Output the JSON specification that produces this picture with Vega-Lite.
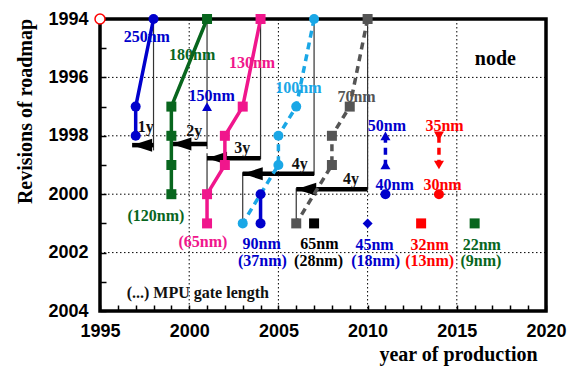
{
  "$schema": "https://vega.github.io/schema/vega-lite/v6.json",
  "width": 446,
  "height": 292,
  "autosize": {"type": "none"},
  "padding": {"left": 100, "top": 19, "right": 28, "bottom": 56},
  "background": "white",
  "config": {
    "view": {"stroke": "black", "strokeWidth": 3.5},
    "axis": {"grid": false, "domain": false, "tickColor": "black", "tickWidth": 1.5, "labelOverlap": false, "labelFlush": false, "zindex": 1,
      "labelFont": "Liberation Sans", "labelFontWeight": "bold", "labelFontSize": 18, "labelColor": "black",
      "titleFont": "Liberation Serif", "titleFontWeight": "bold", "titleFontSize": 20, "titleColor": "black"}
  },
  "datasets": {
    "gridx": [{"x": 2000, "y": 1994, "y2": 2004}, {"x": 2005, "y": 1994, "y2": 2004}, {"x": 2010, "y": 1994, "y2": 2004}, {"x": 2015, "y": 1994, "y2": 2004}],
    "gridy": [{"y": 1996, "x": 1995, "x2": 2020}, {"y": 1998, "x": 1995, "x2": 2020}, {"y": 2000, "x": 1995, "x2": 2020}, {"y": 2002, "x": 1995, "x2": 2020}],
    "vlines": [
      {"x": 1998, "y": 1994, "y2": 1998.5},
      {"x": 2001, "y": 1994, "y2": 1998.45},
      {"x": 2001, "y": 1998.6, "y2": 2000},
      {"x": 2004, "y": 1994, "y2": 1998.8},
      {"x": 2007, "y": 1994, "y2": 1999.35},
      {"x": 2003, "y": 1999.25, "y2": 2001},
      {"x": 2010, "y": 1994, "y2": 1999.85},
      {"x": 2006, "y": 1999.8, "y2": 2001}
    ],
    "arrows": [
      {"label": "1y", "x": 1996.8, "x2": 1998, "y": 1998.32},
      {"label": "2y", "x": 1999.0, "x2": 2001, "y": 1998.28},
      {"label": "3y", "x": 2001.0, "x2": 2004, "y": 1998.77},
      {"label": "4y", "x": 2003.0, "x2": 2007, "y": 1999.3},
      {"label": "4y", "x": 2006.0, "x2": 2010, "y": 1999.83}
    ],
    "nodes": [
      {"series": "250nm", "o": 1, "x": 1998, "y": 1994},
      {"series": "250nm", "o": 2, "x": 1997, "y": 1997},
      {"series": "250nm", "o": 3, "x": 1997, "y": 1998},
      {"series": "180nm", "o": 1, "x": 2001, "y": 1994},
      {"series": "180nm", "o": 2, "x": 1999, "y": 1997},
      {"series": "180nm", "o": 3, "x": 1999, "y": 1998},
      {"series": "180nm", "o": 4, "x": 1999, "y": 1999},
      {"series": "180nm", "o": 5, "x": 1999, "y": 2000},
      {"series": "130nm", "o": 1, "x": 2004, "y": 1994},
      {"series": "130nm", "o": 2, "x": 2003, "y": 1997},
      {"series": "130nm", "o": 3, "x": 2002, "y": 1998},
      {"series": "130nm", "o": 4, "x": 2002, "y": 1999},
      {"series": "130nm", "o": 5, "x": 2001, "y": 2000},
      {"series": "130nm", "o": 6, "x": 2001, "y": 2001},
      {"series": "90nm", "o": 1, "x": 2004, "y": 2000},
      {"series": "90nm", "o": 2, "x": 2004, "y": 2001},
      {"series": "100nm", "o": 1, "x": 2007, "y": 1994},
      {"series": "100nm", "o": 2, "x": 2006, "y": 1997},
      {"series": "100nm", "o": 3, "x": 2005, "y": 1998},
      {"series": "100nm", "o": 4, "x": 2005, "y": 1999},
      {"series": "100nm", "o": 5, "x": 2003, "y": 2001},
      {"series": "70nm", "o": 1, "x": 2010, "y": 1994},
      {"series": "70nm", "o": 2, "x": 2009, "y": 1997},
      {"series": "70nm", "o": 3, "x": 2008, "y": 1998},
      {"series": "70nm", "o": 4, "x": 2008, "y": 1999},
      {"series": "70nm", "o": 5, "x": 2006, "y": 2001},
      {"series": "50nm", "o": 1, "x": 2011, "y": 1998},
      {"series": "50nm", "o": 2, "x": 2011, "y": 1999},
      {"series": "35nm", "o": 1, "x": 2014, "y": 1998},
      {"series": "35nm", "o": 2, "x": 2014, "y": 1999}
    ],
    "singles": [
      {"series": "150nm", "x": 2001, "y": 1997},
      {"series": "40nm", "x": 2011, "y": 2000},
      {"series": "30nm", "x": 2014, "y": 2000},
      {"series": "65nm", "x": 2007, "y": 2001},
      {"series": "45nm", "x": 2010, "y": 2001},
      {"series": "32nm", "x": 2013, "y": 2001},
      {"series": "22nm", "x": 2016, "y": 2001}
    ],
    "origin": [{"x": 1995, "y": 1994}],
    "labels": [
      {"text": "250nm", "x": 1997.62, "y": 1994.63, "series": "250nm"},
      {"text": "180nm", "x": 2000.17, "y": 1995.23, "series": "180nm"},
      {"text": "130nm", "x": 2003.52, "y": 1995.52, "series": "130nm"},
      {"text": "150nm", "x": 2001.26, "y": 1996.64, "series": "150nm"},
      {"text": "100nm", "x": 2006.12, "y": 1996.36, "series": "100nm"},
      {"text": "70nm", "x": 2009.38, "y": 1996.66, "series": "70nm"},
      {"text": "50nm", "x": 2011.08, "y": 1997.66, "series": "50nm"},
      {"text": "35nm", "x": 2014.31, "y": 1997.66, "series": "35nm"},
      {"text": "40nm", "x": 2011.52, "y": 1999.68, "series": "40nm"},
      {"text": "30nm", "x": 2014.2, "y": 1999.68, "series": "30nm"},
      {"text": "(120nm)", "x": 1998.13, "y": 2000.74, "series": "180nm"},
      {"text": "(65nm)", "x": 2000.77, "y": 2001.63, "series": "130nm"},
      {"text": "90nm", "x": 2004.06, "y": 2001.72, "series": "90nm"},
      {"text": "(37nm)", "x": 2004.1, "y": 2002.3, "series": "90nm"},
      {"text": "65nm", "x": 2007.3, "y": 2001.72, "series": "65nm"},
      {"text": "(28nm)", "x": 2007.25, "y": 2002.3, "series": "65nm"},
      {"text": "45nm", "x": 2010.39, "y": 2001.74, "series": "45nm"},
      {"text": "(18nm)", "x": 2010.45, "y": 2002.3, "series": "45nm"},
      {"text": "32nm", "x": 2013.48, "y": 2001.74, "series": "32nm"},
      {"text": "(13nm)", "x": 2013.48, "y": 2002.3, "series": "32nm"},
      {"text": "22nm", "x": 2016.4, "y": 2001.74, "series": "22nm"},
      {"text": "(9nm)", "x": 2016.35, "y": 2002.3, "series": "22nm"},
      {"text": "(...) MPU gate length", "x": 2000.48, "y": 2003.38, "series": "annotation"},
      {"text": "1y", "x": 1997.57, "y": 1997.69, "series": "annotation"},
      {"text": "2y", "x": 2000.29, "y": 1997.83, "series": "annotation"},
      {"text": "3y", "x": 2002.98, "y": 1998.43, "series": "annotation"},
      {"text": "4y", "x": 2006.2, "y": 1998.97, "series": "annotation"},
      {"text": "4y", "x": 2009.07, "y": 1999.49, "series": "annotation"}
    ],
    "titles": [{"text": "node", "x": 2017.16, "y": 1995.37}]
  },
  "encoding": {
    "x": {"field": "x", "type": "quantitative", "scale": {"domain": [1995, 2020], "nice": false, "zero": false},
      "axis": {"title": "year of production", "values": [1995,1996,1997,1998,1999,2000,2001,2002,2003,2004,2005,2006,2007,2008,2009,2010,2011,2012,2013,2014,2015,2016,2017,2018,2019,2020],
        "format": "d", "labelExpr": "datum.value % 5 === 0 ? datum.label : ''", "labelPadding": 11, "offset": -6,
        "labelOverlap": false, "labelFlush": false, "ticks": true, "tickSize": 6,
        "titleX": 358, "titleY": 55, "titleAlign": "center", "titleBaseline": "alphabetic"}},
    "y": {"field": "y", "type": "quantitative", "scale": {"domain": [1994, 2004], "reverse": true, "nice": false, "zero": false},
      "axis": {"title": "Revisions of roadmap", "values": [1994,1995,1996,1997,1998,1999,2000,2001,2002,2003,2004],
        "format": "d", "labelExpr": "datum.value % 2 === 0 ? datum.label : ''", "labelPadding": 12, "offset": -6,
        "labelOverlap": false, "labelFlush": false, "ticks": true, "tickSize": 6,
        "titleX": -81, "titleY": 92, "titleAngle": -90, "titleAlign": "center", "titleBaseline": "middle"}}
  },
  "layer": [
    {
      "data": {"name": "gridx"},
      "mark": {"type": "rule", "color": "black", "strokeWidth": 1, "strokeDash": [1.5, 2.5]},
      "encoding": {"y2": {"field": "y2"}}
    },
    {
      "data": {"name": "gridy"},
      "mark": {"type": "rule", "color": "black", "strokeWidth": 1, "strokeDash": [1.5, 2.5]},
      "encoding": {"x2": {"field": "x2"}}
    },
    {
      "data": {"name": "vlines"},
      "mark": {"type": "rule", "color": "#333333", "strokeWidth": 1.2},
      "encoding": {"y2": {"field": "y2"}}
    },
    {
      "data": {"name": "arrows"},
      "mark": {"type": "rule", "color": "black", "strokeWidth": 4.5},
      "encoding": {"x2": {"field": "x2"}}
    },
    {
      "data": {"name": "arrows"},
      "mark": {"type": "point", "shape": "M0,0L4,-1.3L4,1.3Z", "filled": true, "opacity": 1, "color": "black", "size": 100},
      "encoding": {}
    },
    {
      "data": {"name": "nodes"},
      "transform": [{"filter": {"field": "series", "oneOf": ["250nm", "180nm", "130nm", "90nm"]}}],
      "mark": {"type": "line", "strokeWidth": 3.5},
      "encoding": {
        "order": {"field": "o", "type": "quantitative"},
        "detail": {"field": "series"},
        "color": {"field": "series", "type": "nominal", "legend": null,
          "scale": {"domain": ["250nm","180nm","130nm","100nm","90nm","70nm","50nm","35nm","150nm","40nm","30nm","65nm","45nm","32nm","22nm","annotation"],
            "range": ["#0000cc","#08661e","#f0168c","#1aa7e6","#0000cc","#555555","#0000cc","#ff0000","#0000cc","#0000cc","#ff0000","#000000","#0000cc","#ff0000","#08661e","#111111"]}}
      }
    },
    {
      "data": {"name": "nodes"},
      "transform": [{"filter": {"field": "series", "oneOf": ["100nm", "70nm", "50nm", "35nm"]}}],
      "mark": {"type": "line", "strokeWidth": 3.5, "strokeDash": [7, 5]},
      "encoding": {
        "order": {"field": "o", "type": "quantitative"},
        "detail": {"field": "series"},
        "color": {"field": "series", "type": "nominal", "legend": null}
      }
    },
    {
      "data": {"name": "nodes"},
      "mark": {"type": "point", "filled": true, "opacity": 1, "size": 100},
      "encoding": {
        "color": {"field": "series", "type": "nominal", "legend": null},
        "shape": {"field": "series", "type": "nominal", "legend": null,
          "scale": {"domain": ["250nm","180nm","130nm","100nm","90nm","70nm","50nm","35nm","150nm","40nm","30nm","65nm","45nm","32nm","22nm"],
            "range": ["circle","square","square","circle","circle","square","triangle-up","triangle-down","triangle-up","circle","circle","square","diamond","square","square"]}}
      }
    },
    {
      "data": {"name": "singles"},
      "mark": {"type": "point", "filled": true, "opacity": 1, "size": 100},
      "encoding": {
        "color": {"field": "series", "type": "nominal", "legend": null},
        "shape": {"field": "series", "type": "nominal", "legend": null}
      }
    },
    {
      "data": {"name": "origin"},
      "mark": {"type": "point", "shape": "circle", "filled": false, "color": "#ff0000", "strokeWidth": 1.5, "size": 100, "opacity": 1, "fill": "white"},
      "encoding": {}
    },
    {
      "data": {"name": "labels"},
      "mark": {"type": "text", "font": "Liberation Serif", "fontWeight": "bold", "fontSize": 16, "align": "center", "baseline": "middle"},
      "encoding": {
        "text": {"field": "text"},
        "color": {"field": "series", "type": "nominal", "legend": null}
      }
    },
    {
      "data": {"name": "titles"},
      "mark": {"type": "text", "font": "Liberation Serif", "fontWeight": "bold", "fontSize": 20, "align": "center", "baseline": "middle", "color": "black"},
      "encoding": {"text": {"field": "text"}}
    }
  ]
}
